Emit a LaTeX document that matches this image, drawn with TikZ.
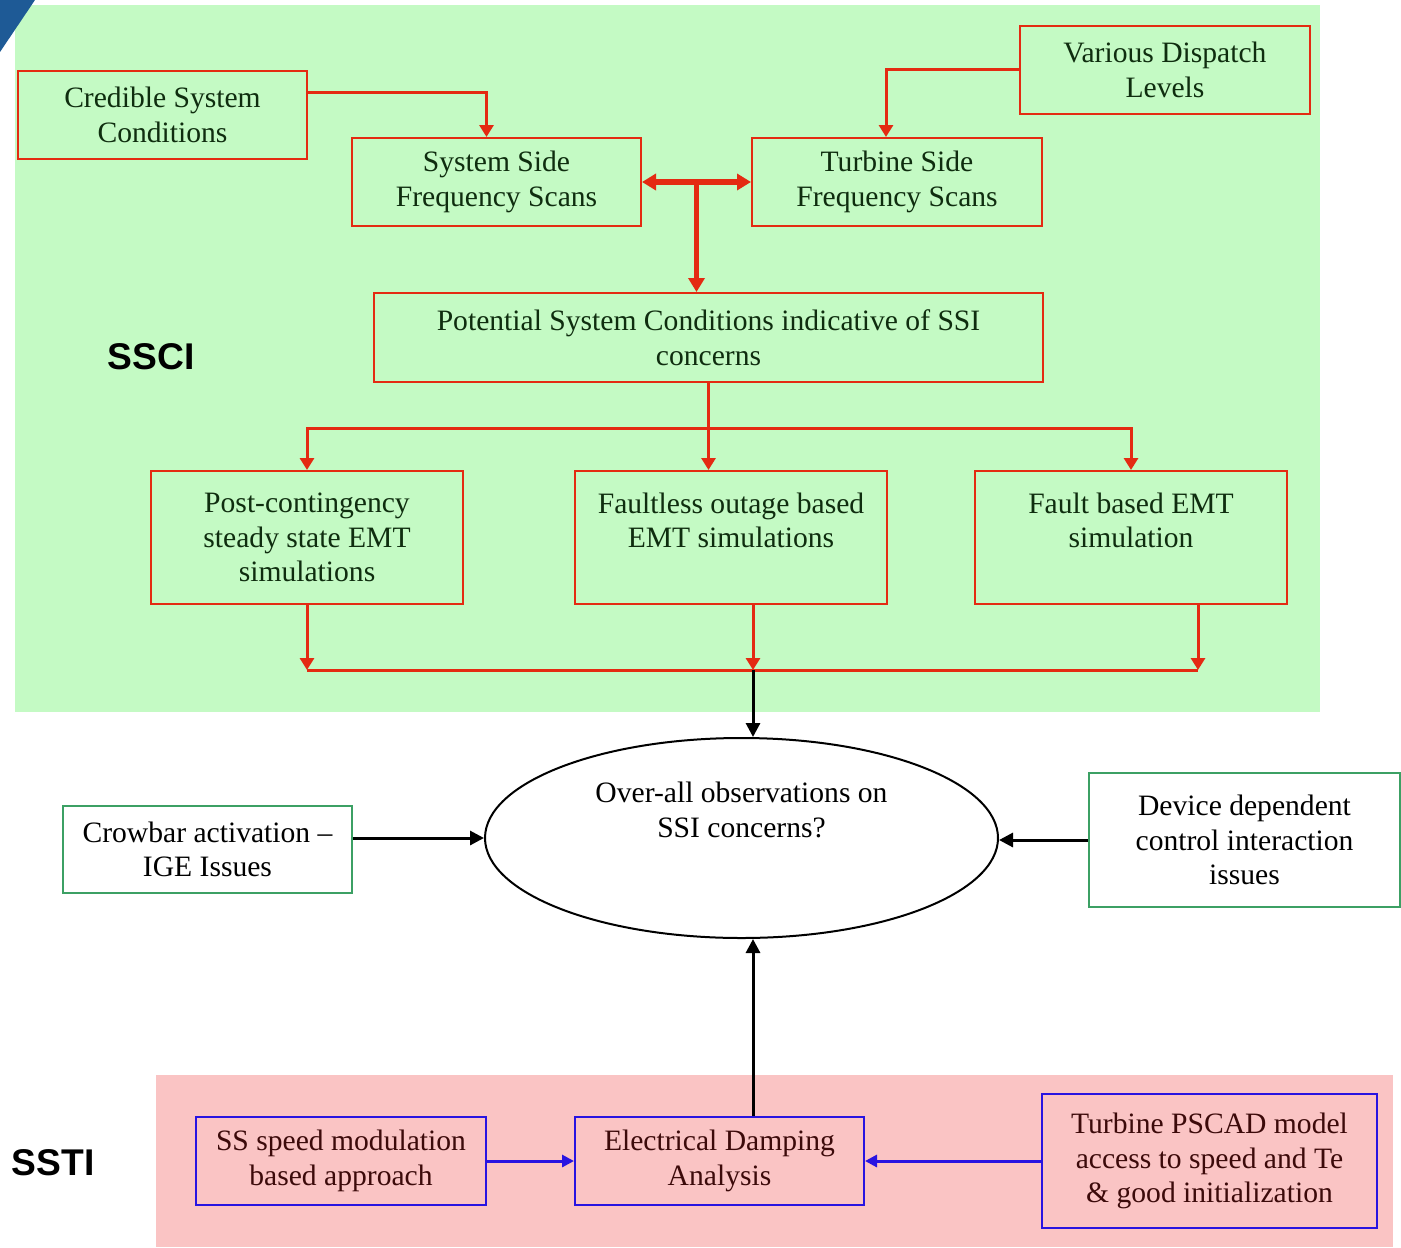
\documentclass[tikz,border=0pt]{standalone}
\usepackage{fontspec}
\setmainfont{Liberation Serif}
\setsansfont{Liberation Sans}
\usetikzlibrary{arrows.meta,shapes.geometric,calc}
\definecolor{ssred}{RGB}{228,42,18}
\definecolor{ssgreenbg}{RGB}{196,250,196}
\definecolor{sspinkbg}{RGB}{250,196,196}
\definecolor{ssgreenline}{RGB}{60,160,100}
\definecolor{ssblue}{RGB}{40,20,225}
\definecolor{greentext}{RGB}{15,45,15}
\definecolor{pinktext}{RGB}{60,10,10}
\definecolor{cornerblue}{RGB}{30,90,150}
\tikzset{
  boxfont/.style={font=\fontsize{14.8}{17.3}\selectfont},
  redbox/.style={draw=ssred, line width=1pt, boxfont, text=greentext, align=center, inner sep=0pt},
  greenbox/.style={draw=ssgreenline, line width=1pt, boxfont, text=black, align=center, inner sep=0pt},
  bluebox/.style={draw=ssblue, line width=1pt, boxfont, text=pinktext, align=center, inner sep=0pt},
  redline/.style={draw=ssred, line width=1.5pt, -{Triangle[width=7pt,length=6pt]}},
  thickred/.style={draw=ssred, line width=2.8pt, -{Triangle[width=8pt,length=7pt]}},
  blackline/.style={draw=black, line width=1.5pt, -{Triangle[width=7pt,length=7pt]}},
  blueline/.style={draw=ssblue, line width=1.5pt, -{Triangle[width=6pt,length=6pt]}},
  partlabel/.style={font=\sffamily\bfseries\fontsize{18.6}{20}\selectfont, text=black}
}
\begin{document}
\begin{tikzpicture}[x=0.5pt,y=-0.5pt]
\useasboundingbox (0,0) rectangle (1401,1247);
\fill [white] (0,0) rectangle (1401,1247);
\fill [ssgreenbg] (15,5) rectangle (1320,712);
\fill [sspinkbg] (156,1075) rectangle (1393,1247);
\fill [cornerblue] (0,0) -- (35,0) -- (0,52) -- cycle;

\node [partlabel] (ssci) at (151,357) {SSCI};
\node [partlabel] (ssti) at (53,1163) {SSTI};

\node [redbox, minimum width=144.5pt, minimum height=44pt] (cred) at (162.5,115) {Credible System\\Conditions};
\node [redbox, minimum width=145pt, minimum height=44pt] (disp) at (1165,70) {Various Dispatch\\Levels};
\node [redbox, minimum width=144.5pt, minimum height=44pt] (sysscan) at (496.5,182) {System Side\\Frequency Scans};
\node [redbox, minimum width=145pt, minimum height=44pt] (turbscan) at (897,182) {Turbine Side\\Frequency Scans};
\node [redbox, minimum width=334.5pt, minimum height=44.5pt] (potential) at (708.5,337.5) {Potential System Conditions indicative of SSI\\concerns};
\node [redbox, minimum width=156pt, minimum height=66.5pt] (post) at (307,537.5) {Post-contingency\\steady state EMT\\simulations};
\node [redbox, minimum width=156pt, minimum height=66.5pt] (faultless) at (731,537.5) {Faultless outage based\\EMT simulations\\\mbox{}};
\node [redbox, minimum width=156pt, minimum height=66.5pt] (fault) at (1131,537.5) {Fault based EMT\\simulation\\\mbox{}};

\node [draw, ellipse, line width=1pt, minimum width=256.5pt, minimum height=100pt, inner sep=0pt] (obs) at (741.5,838) {};
\node [boxfont, align=center] (obstext) at (741.5,810) {Over-all observations on\\SSI concerns?};
\node [greenbox, minimum width=144.5pt, minimum height=43.5pt] (crowbar) at (207.5,849.5) {Crowbar activation --\\IGE Issues};
\node [greenbox, minimum width=155.5pt, minimum height=67pt] (device) at (1244.5,840) {Device dependent\\control interaction\\issues};

\node [bluebox, minimum width=145pt, minimum height=44pt] (ssmod) at (341,1161) {SS speed modulation\\based approach};
\node [bluebox, minimum width=144.5pt, minimum height=44pt] (elec) at (719.5,1161) {Electrical Damping\\Analysis};
\node [bluebox, minimum width=167.5pt, minimum height=67pt] (pscad) at (1209.5,1161) {Turbine PSCAD model\\access to speed and Te\\\& good initialization};

\draw [redline] ([yshift=11pt]cred.east) -| ([xshift=-5pt]sysscan.north);
\draw [redline] (disp.west) -| ([xshift=-5.5pt]turbscan.north);
\coordinate (tee) at ($(sysscan.east)!0.5!(turbscan.west)$);
\draw [thickred, {Triangle[width=8pt,length=7pt]}-{Triangle[width=8pt,length=7pt]}] (sysscan.east) -- (turbscan.west);
\draw [thickred] (tee) -- (tee |- potential.north);

\coordinate (split) at ($(potential.south)+(0,45)$);
\draw [redline] (potential.south) -- (split) -| (post.north);
\draw [redline] (split) -| (fault.north);
\draw [redline] (split) -- (split |- faultless.north);

\coordinate (merge) at (753,670);
\coordinate (fmerge) at (1198,670);
\draw [redline] (post.south) -- (post.south |- merge);
\draw [redline] ([xshift=11pt]faultless.south) -- (merge);
\draw [redline] ([xshift=33.5pt]fault.south) -- (fmerge);
\draw [draw=ssred, line width=1.5pt] (post.south |- merge) -- (fmerge);
\draw [blackline] (merge) -- (merge |- obs.north);

\draw [blackline] (crowbar.east |- obs.west) -- (obs.west);
\draw [blackline] (device.west) -- (device.west -| obs.east);
\draw [blackline] ([xshift=16.75pt]elec.north) -- ([xshift=16.75pt]elec.north |- obs.south);

\draw [blueline] (ssmod.east) -- (elec.west);
\draw [blueline] (pscad.west) -- (elec.east);
\end{tikzpicture}
\end{document}
